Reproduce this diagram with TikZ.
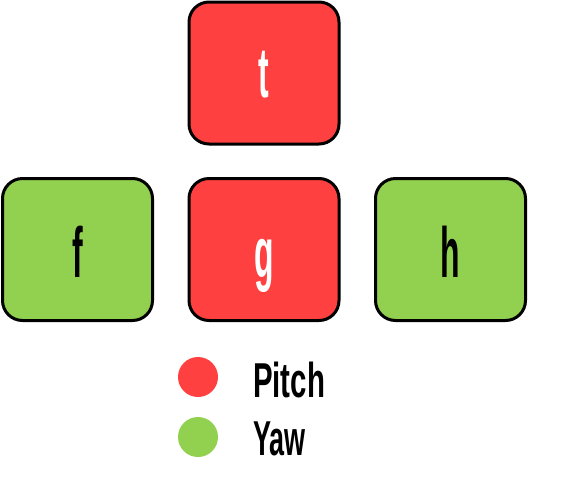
\documentclass[tikz,border=0pt]{standalone}
\usepackage{fontspec}
\setmainfont{Liberation Sans}
\definecolor{keyred}{HTML}{FF4040}
\definecolor{keygreen}{HTML}{92D050}
\begin{document}
\begin{tikzpicture}[x=1pt,y=-1pt,
  keybox/.style={draw=black, line width=3pt, rounded corners=20pt, minimum width=150pt, minimum height=142pt, inner sep=0pt},
  redkey/.style={keybox, fill=keyred},
  greenkey/.style={keybox, fill=keygreen},
  keylabel/.style={anchor=base, inner sep=0pt, font=\fontsize{71}{80}\selectfont\bfseries},
  legenddot/.style={circle, minimum size=40pt, inner sep=0pt},
  legendtext/.style={anchor=base west, inner sep=0pt, font=\fontsize{49}{56}\selectfont\bfseries}
]
\useasboundingbox (0,0) rectangle (576,499);
\node[redkey] (t) at (264,73) {};
\node[greenkey] (f) at (77.5,249.5) {};
\node[redkey] (g) at (264,249.5) {};
\node[greenkey] (h) at (450.5,249.5) {};
\node[keylabel, text=white] (tl) at (264,97) {\scalebox{0.45}[1]{t}};
\node[keylabel, text=black] (fl) at (77.5,277) {\scalebox{0.45}[1]{f}};
\node[keylabel, text=white] (gl) at (264,277) {\scalebox{0.45}[1]{g}};
\node[keylabel, text=black] (hl) at (450.5,277) {\scalebox{0.45}[1]{h}};
\node[legenddot, fill=keyred] (pdot) at (198,377) {};
\node[legenddot, fill=keygreen] (ydot) at (198,437) {};
\node[legendtext] (ptext) at (253,397) {\scalebox{0.6}[1]{Pitch}};
\node[legendtext] (ytext) at (253,455) {\scalebox{0.55}[1]{Yaw}};
\end{tikzpicture}
\end{document}
